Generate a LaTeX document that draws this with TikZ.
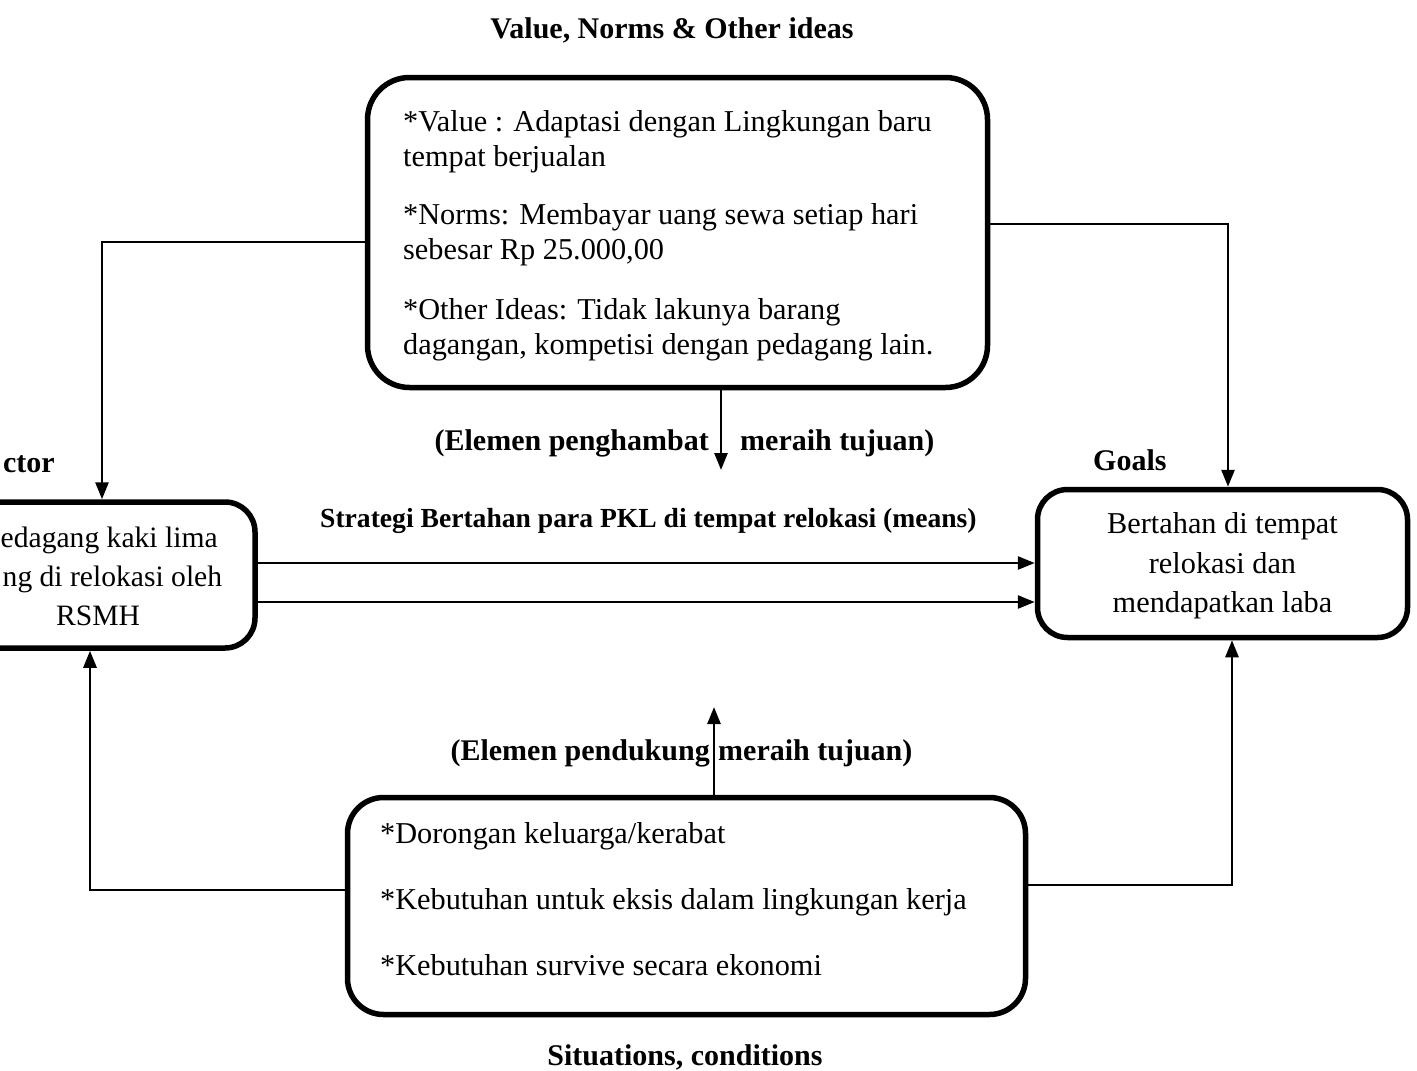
\documentclass[tikz,border=0pt]{standalone}
\usepackage{fontspec}
\setmainfont{Liberation Serif}
\usetikzlibrary{arrows.meta,calc}
\begin{document}
\begin{tikzpicture}[x=1pt,y=-1pt,
  box/.style={draw, line width=5.5pt, inner sep=0pt, align=center},
  body/.style={font=\fontsize{30.3}{35}\selectfont},
  bodyc/.style={font=\fontsize{30.3}{39.5}\selectfont},
  lbl/.style={font=\fontsize{30}{35}\selectfont\bfseries, inner sep=0pt},
  conn/.style={line width=2.7pt, -{Triangle[length=17pt,width=13pt]}}]
\useasboundingbox (0,0) rectangle (1417,1071);
\clip (0,0) rectangle (1417,1071);

% boxes
\node[box, rounded corners=42pt, minimum width=620pt, minimum height=310pt] (values) at (677.5,232.5) {};
\node[body, inner sep=0pt, align=left, anchor=north west] (valtext) at (403,110)
  {*Value : Adaptasi dengan Lingkungan baru\\ tempat berjualan\\[23pt]
   *Norms: Membayar uang sewa setiap hari\\ sebesar Rp 25.000,00\\[25pt]
   *Other Ideas: Tidak lakunya barang\\ dagangan, kompetisi dengan pedagang lain.};
\node[box, rounded corners=30pt, minimum width=314pt, minimum height=146pt] (actor) at (98,575) {};
\node[font=\fontsize{29.6}{39}\selectfont, inner sep=0pt, align=left, anchor=north west] (actortext) at (0.5,527)
  {edagang kaki lima\\ \hspace*{2pt}ng di relokasi oleh\\ \hspace*{55.5pt}RSMH};
\node[box, rounded corners=30pt, minimum width=370pt, minimum height=148pt] (goals) at (1222.5,563.5) {};
\node[bodyc, inner sep=0pt, align=center] (goalstext) at (1222.5,566)
  {Bertahan di tempat\\ relokasi dan\\ mendapatkan laba};
\node[box, rounded corners=36pt, minimum width=678pt, minimum height=217pt] (situ) at (686.5,906) {};
\node[body, inner sep=0pt, align=left, anchor=north west] (situtext) at (380,822)
  {*Dorongan keluarga/kerabat\\[31pt]
   *Kebutuhan untuk eksis dalam lingkungan kerja\\[31pt]
   *Kebutuhan survive secara ekonomi};

% labels
\node[lbl, anchor=base] (title) at (672,38) {Value, Norms \& Other ideas};
\node[lbl, anchor=base east] (hamb1) at (709,450) {(Elemen penghambat};
\node[lbl, anchor=base west] (hamb2) at (740,450) {meraih tujuan)};
\node[lbl, anchor=base east] (actorlbl) at (55,472) {ctor};
\node[lbl, anchor=base west] (goalslbl) at (1093,470) {Goals};
\node[lbl, font=\fontsize{27.6}{33}\selectfont\bfseries, anchor=base west] (means) at (320,527)
  {Strategi Bertahan para PKL di tempat relokasi (means)};
\node[lbl, anchor=base east] (dukung1) at (710,760) {(Elemen pendukung};
\node[lbl, anchor=base west] (dukung2) at (718,760) {meraih tujuan)};
\node[lbl, anchor=base] (sit) at (685,1065) {Situations, conditions};

\coordinate (hambtip) at (721,470);
\coordinate (dukungtip) at (714,707);

% connectors
\draw[conn] ($(values.west)+(0,9.5)$) -| ($(actor.north)+(4,0)$);
\draw[conn] ($(values.east)+(0,-8.5)$) -| ($(goals.north)+(5.5,0)$);
\draw[conn] ($(values.south)+(43.5,0)$) -- (hambtip);
\draw[conn] ($(actor.east)+(0,-12)$) -- ($(actor.east -| goals.west)+(0,-12)$);
\draw[conn] ($(actor.east)+(0,27)$) -- ($(actor.east -| goals.west)+(0,27)$);
\draw[conn] ($(situ.west)+(0,-16)$) -| ($(actor.south)+(-8,0)$);
\draw[conn] ($(situ.east)+(0,-21)$) -| ($(goals.south)+(9.5,0)$);
\draw[conn] ($(situ.north)+(27.5,0)$) -- (dukungtip);
\end{tikzpicture}
\end{document}
